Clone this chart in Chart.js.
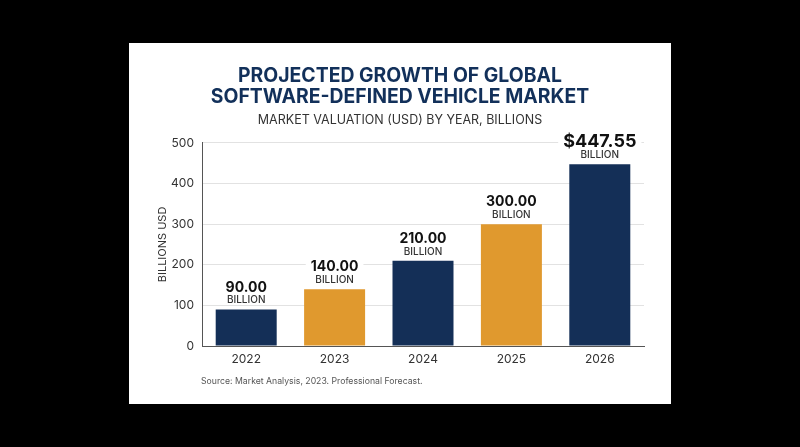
<!DOCTYPE html>
<html>
<head>
<meta charset="utf-8">
<script src="https://cdn.jsdelivr.net/npm/chart.js@4"></script>
<style>
    html, body { margin: 0; padding: 0; background: #000; }
    #card { position: absolute; left: 129px; top: 43px; width: 542px; height: 361px; background: #fff; }
    #wrap { position: absolute; left: 0; top: 0; width: 800px; height: 447px; }
</style>
</head>
<body>
<div id="card"></div>
<div id="wrap"><canvas id="chart"></canvas></div>
<script>
const years = ['2022', '2023', '2024', '2025', '2026'];
const values = [90, 140, 210, 300, 447.55];
const valueLabels = ['90.00', '140.00', '210.00', '300.00', '$447.55'];
const barColors = ['#142f57', '#e0992e', '#142f57', '#e0992e', '#142f57'];
const titleLines = ['PROJECTED GROWTH OF GLOBAL', 'SOFTWARE-DEFINED VEHICLE MARKET'];
const subtitleText = 'MARKET VALUATION (USD) BY YEAR, BILLIONS';
const sourceText = 'Source: Market Analysis, 2023. Professional Forecast.';
const fontName = 'Inter, "Open Sans", sans-serif';

// etiquetas em cima das barras, com fundo branco cortando o grid
const barLabels = {
    id: 'barLabels',
    afterDatasetsDraw(chart) {
        const c = chart.ctx;
        const bars = chart.getDatasetMeta(0).data;
        c.save();
        c.textAlign = 'center';
        c.textBaseline = 'middle';
        bars.forEach((bar, i) => {
            const last = i === bars.length - 1;
            c.font = `700 ${last ? 18 : 14}px ${fontName}`;
            const w = c.measureText(valueLabels[i]).width;
            const y = bar.y - (last ? 23 : 22);
            c.fillStyle = '#fff';
            c.fillRect(bar.x - w / 2 - 5, y - 9, w + 10, 18);
            c.fillStyle = '#111';
            c.fillText(valueLabels[i], bar.x, y);
            c.font = `500 10px ${fontName}`;
            c.fillStyle = '#333';
            c.fillText('BILLION', bar.x, bar.y - 9);
        });
        c.restore();
    }
};

// linha da fonte no rodape
const sourceNote = {
    id: 'sourceNote',
    afterDraw(chart) {
        const c = chart.ctx;
        c.save();
        c.font = `400 8.7px ${fontName}`;
        c.fillStyle = '#555';
        c.textAlign = 'left';
        c.textBaseline = 'middle';
        c.fillText(sourceText, chart.chartArea.left - 1, 381);
        c.restore();
    }
};

new Chart(document.getElementById('chart'), {
    type: 'bar',
    data: {
        labels: years,
        datasets: [{
            data: values,
            backgroundColor: barColors,
            barPercentage: 0.69,
            categoryPercentage: 1
        }]
    },
    options: {
        responsive: true,
        maintainAspectRatio: false,
        animation: false,
        layout: { padding: { left: 156, right: 156, top: 66, bottom: 71 } },
        plugins: {
            legend: { display: false },
            tooltip: { enabled: false },
            title: {
                display: true,
                text: titleLines,
                color: '#12305a',
                font: { family: fontName, size: 19.4, weight: '700', lineHeight: 1.08 },
                padding: { top: 0, bottom: 5 }
            },
            subtitle: {
                display: true,
                text: subtitleText,
                color: '#333',
                font: { family: fontName, size: 12.5, weight: '400' },
                padding: { top: 0, bottom: 15 }
            }
        },
        scales: {
            x: {
                grid: { display: false, drawTicks: false },
                border: { color: '#555', width: 1 },
                ticks: { color: '#333', padding: 6, font: { family: fontName, size: 12 } },
                afterFit(scale) { scale.height = 30; }
            },
            y: {
                min: 0,
                max: 500,
                grid: { color: '#e2e2e2', drawTicks: false },
                border: { color: '#555', width: 1 },
                ticks: { stepSize: 100, color: '#333', padding: 8, font: { family: fontName, size: 12 } },
                title: {
                    display: true,
                    text: 'BILLIONS USD',
                    color: '#333',
                    padding: 0,
                    font: { family: fontName, size: 11 }
                },
                afterFit(scale) { scale.width = 46; }
            }
        }
    },
    plugins: [barLabels, sourceNote]
});
</script>
</body>
</html>
